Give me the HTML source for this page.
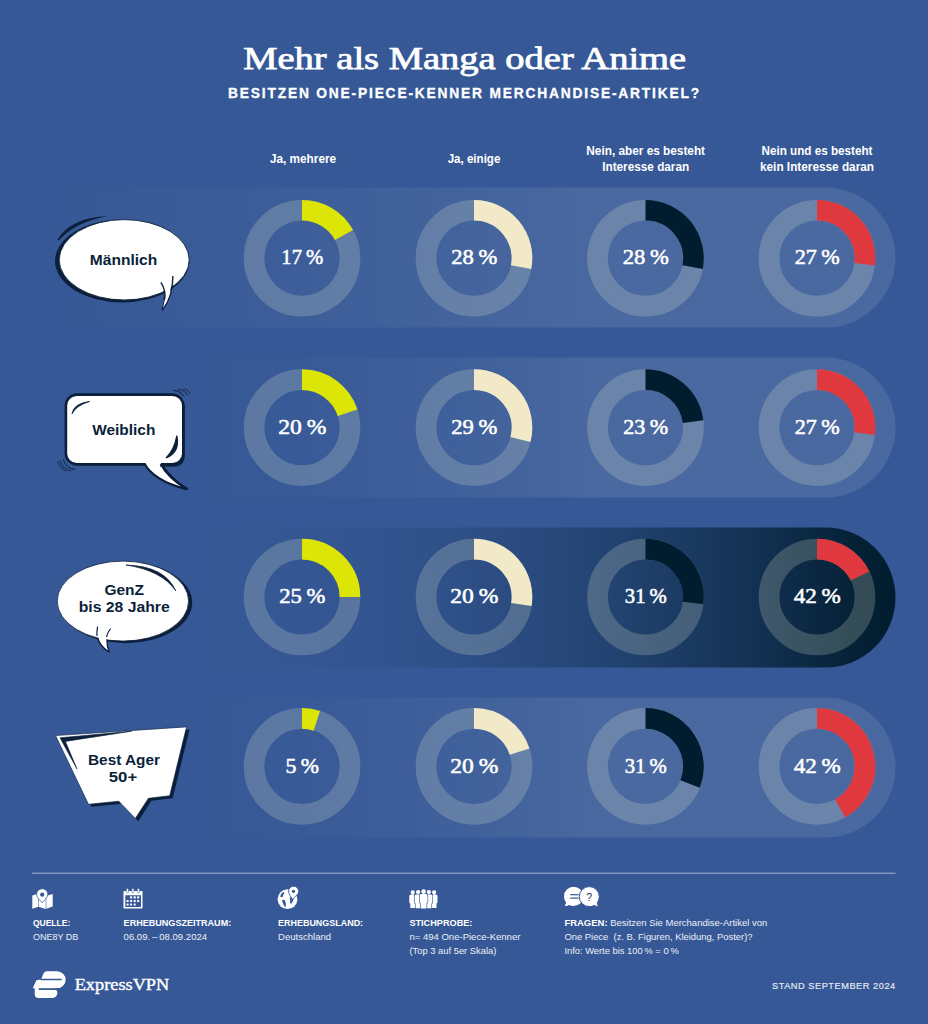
<!DOCTYPE html>
<html lang="de">
<head>
<meta charset="utf-8">
<title>Mehr als Manga oder Anime</title>
<style>
html,body{margin:0;padding:0;background:#365896;}
body{width:928px;height:1024px;overflow:hidden;position:relative;}
svg{display:block;position:absolute;left:0;top:0;}
.serif{font-family:"Liberation Serif",serif;}
.sans{font-family:"Liberation Sans",sans-serif;}
text{fill:#fff;}
.b{font-weight:bold;}
.bub{fill:#0b1f3a;font-family:"Liberation Sans",sans-serif;font-weight:bold;font-size:15px;text-anchor:middle;}
.pct{font-family:"Liberation Serif",serif;font-size:21.6px;text-anchor:middle;stroke:#fff;stroke-width:0.55;}
.hd{font-family:"Liberation Sans",sans-serif;font-weight:bold;font-size:12px;text-anchor:middle;}
.fl{font-family:"Liberation Sans",sans-serif;font-weight:bold;font-size:9.3px;}
.fv{font-family:"Liberation Sans",sans-serif;font-size:9.3px;fill:#edf0f7;}
</style>
</head>
<body>
<svg width="928" height="1024" viewBox="0 0 928 1024">
<defs>
<linearGradient id="gl1" gradientUnits="userSpaceOnUse" x1="40" y1="0" x2="600" y2="0">
<stop offset="0.00" stop-color="#fff" stop-opacity="0.0000"/>
<stop offset="0.05" stop-color="#fff" stop-opacity="0.0020"/>
<stop offset="0.10" stop-color="#fff" stop-opacity="0.0050"/>
<stop offset="0.15" stop-color="#fff" stop-opacity="0.0085"/>
<stop offset="0.20" stop-color="#fff" stop-opacity="0.0123"/>
<stop offset="0.25" stop-color="#fff" stop-opacity="0.0165"/>
<stop offset="0.30" stop-color="#fff" stop-opacity="0.0209"/>
<stop offset="0.35" stop-color="#fff" stop-opacity="0.0255"/>
<stop offset="0.40" stop-color="#fff" stop-opacity="0.0304"/>
<stop offset="0.45" stop-color="#fff" stop-opacity="0.0354"/>
<stop offset="0.50" stop-color="#fff" stop-opacity="0.0406"/>
<stop offset="0.55" stop-color="#fff" stop-opacity="0.0460"/>
<stop offset="0.60" stop-color="#fff" stop-opacity="0.0515"/>
<stop offset="0.65" stop-color="#fff" stop-opacity="0.0571"/>
<stop offset="0.70" stop-color="#fff" stop-opacity="0.0629"/>
<stop offset="0.75" stop-color="#fff" stop-opacity="0.0688"/>
<stop offset="0.80" stop-color="#fff" stop-opacity="0.0748"/>
<stop offset="0.85" stop-color="#fff" stop-opacity="0.0810"/>
<stop offset="0.90" stop-color="#fff" stop-opacity="0.0872"/>
<stop offset="0.95" stop-color="#fff" stop-opacity="0.0935"/>
<stop offset="1.00" stop-color="#fff" stop-opacity="0.1000"/>
</linearGradient>
<linearGradient id="gl2" gradientUnits="userSpaceOnUse" x1="150" y1="0" x2="600" y2="0">
<stop offset="0.00" stop-color="#fff" stop-opacity="0.0000"/>
<stop offset="0.05" stop-color="#fff" stop-opacity="0.0005"/>
<stop offset="0.10" stop-color="#fff" stop-opacity="0.0016"/>
<stop offset="0.15" stop-color="#fff" stop-opacity="0.0033"/>
<stop offset="0.20" stop-color="#fff" stop-opacity="0.0055"/>
<stop offset="0.25" stop-color="#fff" stop-opacity="0.0082"/>
<stop offset="0.30" stop-color="#fff" stop-opacity="0.0115"/>
<stop offset="0.35" stop-color="#fff" stop-opacity="0.0151"/>
<stop offset="0.40" stop-color="#fff" stop-opacity="0.0192"/>
<stop offset="0.45" stop-color="#fff" stop-opacity="0.0238"/>
<stop offset="0.50" stop-color="#fff" stop-opacity="0.0287"/>
<stop offset="0.55" stop-color="#fff" stop-opacity="0.0341"/>
<stop offset="0.60" stop-color="#fff" stop-opacity="0.0399"/>
<stop offset="0.65" stop-color="#fff" stop-opacity="0.0461"/>
<stop offset="0.70" stop-color="#fff" stop-opacity="0.0526"/>
<stop offset="0.75" stop-color="#fff" stop-opacity="0.0596"/>
<stop offset="0.80" stop-color="#fff" stop-opacity="0.0669"/>
<stop offset="0.85" stop-color="#fff" stop-opacity="0.0746"/>
<stop offset="0.90" stop-color="#fff" stop-opacity="0.0827"/>
<stop offset="0.95" stop-color="#fff" stop-opacity="0.0912"/>
<stop offset="1.00" stop-color="#fff" stop-opacity="0.1000"/>
</linearGradient>
<linearGradient id="gd" gradientUnits="userSpaceOnUse" x1="170" y1="0" x2="895" y2="0">
<stop offset="0.00" stop-color="#001d2f" stop-opacity="0.000"/>
<stop offset="0.05" stop-color="#001d2f" stop-opacity="0.002"/>
<stop offset="0.10" stop-color="#001d2f" stop-opacity="0.007"/>
<stop offset="0.15" stop-color="#001d2f" stop-opacity="0.018"/>
<stop offset="0.20" stop-color="#001d2f" stop-opacity="0.033"/>
<stop offset="0.25" stop-color="#001d2f" stop-opacity="0.053"/>
<stop offset="0.30" stop-color="#001d2f" stop-opacity="0.079"/>
<stop offset="0.35" stop-color="#001d2f" stop-opacity="0.110"/>
<stop offset="0.40" stop-color="#001d2f" stop-opacity="0.146"/>
<stop offset="0.45" stop-color="#001d2f" stop-opacity="0.189"/>
<stop offset="0.50" stop-color="#001d2f" stop-opacity="0.237"/>
<stop offset="0.55" stop-color="#001d2f" stop-opacity="0.290"/>
<stop offset="0.60" stop-color="#001d2f" stop-opacity="0.350"/>
<stop offset="0.65" stop-color="#001d2f" stop-opacity="0.416"/>
<stop offset="0.70" stop-color="#001d2f" stop-opacity="0.488"/>
<stop offset="0.75" stop-color="#001d2f" stop-opacity="0.566"/>
<stop offset="0.80" stop-color="#001d2f" stop-opacity="0.650"/>
<stop offset="0.85" stop-color="#001d2f" stop-opacity="0.740"/>
<stop offset="0.90" stop-color="#001d2f" stop-opacity="0.837"/>
<stop offset="0.95" stop-color="#001d2f" stop-opacity="0.940"/>
<stop offset="1.00" stop-color="#001d2f" stop-opacity="1.000"/>
</linearGradient>
</defs>
<rect width="928" height="1024" fill="#365896"/>

<path d="M0,187.5 H825.5 A70,70 0 0 1 825.5,327.5 H0 Z" fill="url(#gl1)"/>
<path d="M0,357.5 H825.5 A70,70 0 0 1 825.5,497.5 H0 Z" fill="url(#gl2)"/>
<path d="M0,527.5 H825.5 A70,70 0 0 1 825.5,667.5 H0 Z" fill="url(#gd)"/>
<path d="M0,697.5 H825.5 A70,70 0 0 1 825.5,837.5 H0 Z" fill="url(#gl2)"/>
<circle cx="302" cy="258.2" r="47.95" fill="none" stroke="rgba(225,236,208,0.215)" stroke-width="20.70"/>
<path d="M302.00,210.25 A47.95,47.95 0 0 1 344.02,235.10" fill="none" stroke="#dce506" stroke-width="20.70"/>
<text class="pct" x="302.3" y="263.8" textLength="42" lengthAdjust="spacingAndGlyphs">17 %</text>
<circle cx="474" cy="258.2" r="47.95" fill="none" stroke="rgba(225,236,208,0.215)" stroke-width="20.70"/>
<path d="M474.00,210.25 A47.95,47.95 0 0 1 521.10,267.18" fill="none" stroke="#f2e9c9" stroke-width="20.70"/>
<text class="pct" x="474.3" y="263.8" textLength="46" lengthAdjust="spacingAndGlyphs">28 %</text>
<circle cx="645.5" cy="258.2" r="47.95" fill="none" stroke="rgba(225,236,208,0.215)" stroke-width="20.70"/>
<path d="M645.50,210.25 A47.95,47.95 0 0 1 692.60,267.18" fill="none" stroke="#001d2f" stroke-width="20.70"/>
<text class="pct" x="645.8" y="263.8" textLength="46" lengthAdjust="spacingAndGlyphs">28 %</text>
<circle cx="817" cy="258.2" r="47.95" fill="none" stroke="rgba(225,236,208,0.215)" stroke-width="20.70"/>
<path d="M817.00,210.25 A47.95,47.95 0 0 1 864.57,264.21" fill="none" stroke="#df393f" stroke-width="20.70"/>
<text class="pct" x="817.3" y="263.8" textLength="45" lengthAdjust="spacingAndGlyphs">27 %</text>
<circle cx="302" cy="427.6" r="47.95" fill="none" stroke="rgba(225,236,208,0.215)" stroke-width="20.70"/>
<path d="M302.00,379.65 A47.95,47.95 0 0 1 347.60,412.78" fill="none" stroke="#dce506" stroke-width="20.70"/>
<text class="pct" x="302.3" y="434.2" textLength="48" lengthAdjust="spacingAndGlyphs">20 %</text>
<circle cx="474" cy="427.6" r="47.95" fill="none" stroke="rgba(225,236,208,0.215)" stroke-width="20.70"/>
<path d="M474.00,379.65 A47.95,47.95 0 0 1 520.44,439.52" fill="none" stroke="#f2e9c9" stroke-width="20.70"/>
<text class="pct" x="474.3" y="434.2" textLength="46" lengthAdjust="spacingAndGlyphs">29 %</text>
<circle cx="645.5" cy="427.6" r="47.95" fill="none" stroke="rgba(225,236,208,0.215)" stroke-width="20.70"/>
<path d="M645.50,379.65 A47.95,47.95 0 0 1 693.07,421.59" fill="none" stroke="#001d2f" stroke-width="20.70"/>
<text class="pct" x="645.8" y="434.2" textLength="45" lengthAdjust="spacingAndGlyphs">23 %</text>
<circle cx="817" cy="427.6" r="47.95" fill="none" stroke="rgba(225,236,208,0.215)" stroke-width="20.70"/>
<path d="M817.00,379.65 A47.95,47.95 0 0 1 864.57,433.61" fill="none" stroke="#df393f" stroke-width="20.70"/>
<text class="pct" x="817.3" y="434.2" textLength="45" lengthAdjust="spacingAndGlyphs">27 %</text>
<circle cx="302" cy="597.0" r="47.95" fill="none" stroke="rgba(225,236,208,0.215)" stroke-width="20.70"/>
<path d="M302.00,549.05 A47.95,47.95 0 0 1 349.95,597.00" fill="none" stroke="#dce506" stroke-width="20.70"/>
<text class="pct" x="302.3" y="603.4" textLength="46" lengthAdjust="spacingAndGlyphs">25 %</text>
<circle cx="474" cy="597.0" r="47.95" fill="none" stroke="rgba(225,236,208,0.215)" stroke-width="20.70"/>
<path d="M474.00,549.05 A47.95,47.95 0 0 1 521.36,604.50" fill="none" stroke="#f2e9c9" stroke-width="20.70"/>
<text class="pct" x="474.3" y="603.4" textLength="48" lengthAdjust="spacingAndGlyphs">20 %</text>
<circle cx="645.5" cy="597.0" r="47.95" fill="none" stroke="rgba(225,236,208,0.215)" stroke-width="20.70"/>
<path d="M645.50,549.05 A47.95,47.95 0 0 1 693.07,603.01" fill="none" stroke="#001d2f" stroke-width="20.70"/>
<text class="pct" x="645.8" y="603.4" textLength="42" lengthAdjust="spacingAndGlyphs">31 %</text>
<circle cx="817" cy="597.0" r="47.95" fill="none" stroke="rgba(225,236,208,0.215)" stroke-width="20.70"/>
<path d="M817.00,549.05 A47.95,47.95 0 0 1 860.13,576.04" fill="none" stroke="#df393f" stroke-width="20.70"/>
<text class="pct" x="817.3" y="603.4" textLength="47" lengthAdjust="spacingAndGlyphs">42 %</text>
<circle cx="302" cy="766.4" r="47.95" fill="none" stroke="rgba(225,236,208,0.215)" stroke-width="20.70"/>
<path d="M302.00,718.45 A47.95,47.95 0 0 1 316.82,720.80" fill="none" stroke="#dce506" stroke-width="20.70"/>
<text class="pct" x="302.3" y="772.7" textLength="33.5" lengthAdjust="spacingAndGlyphs">5 %</text>
<circle cx="474" cy="766.4" r="47.95" fill="none" stroke="rgba(225,236,208,0.215)" stroke-width="20.70"/>
<path d="M474.00,718.45 A47.95,47.95 0 0 1 519.60,751.58" fill="none" stroke="#f2e9c9" stroke-width="20.70"/>
<text class="pct" x="474.3" y="772.7" textLength="48" lengthAdjust="spacingAndGlyphs">20 %</text>
<circle cx="645.5" cy="766.4" r="47.95" fill="none" stroke="rgba(225,236,208,0.215)" stroke-width="20.70"/>
<path d="M645.50,718.45 A47.95,47.95 0 0 1 690.08,784.05" fill="none" stroke="#001d2f" stroke-width="20.70"/>
<text class="pct" x="645.8" y="772.7" textLength="42" lengthAdjust="spacingAndGlyphs">31 %</text>
<circle cx="817" cy="766.4" r="47.95" fill="none" stroke="rgba(225,236,208,0.215)" stroke-width="20.70"/>
<path d="M817.00,718.45 A47.95,47.95 0 0 1 840.10,808.42" fill="none" stroke="#df393f" stroke-width="20.70"/>
<text class="pct" x="817.3" y="772.7" textLength="47" lengthAdjust="spacingAndGlyphs">42 %</text>
<g id="b1">
<path d="M57.4,239.6 Q72,217 108,216.3 Q76,221.5 58.6,240.6 Z" fill="#0b1f3a"/>
<ellipse cx="122.2" cy="261" rx="67.2" ry="41.4" fill="#0b1f3a"/>
<path d="M160.9,281 Q168,293 162.4,309.8 Q173,296 172.9,275 Z" fill="#fff" stroke="#0b1f3a" stroke-width="1.5" stroke-linejoin="round"/>
<ellipse cx="124.2" cy="259.8" rx="65" ry="40.2" fill="#fff" stroke="#0b1f3a" stroke-width="0.9"/>
<path d="M161.4,283 Q167.6,293 163,308 Q172,296 172.3,277 Z" fill="#fff"/>
<path d="M160.9,282.4 Q166.5,291 164.4,300" fill="none" stroke="#0b1f3a" stroke-width="1.4"/>
<path d="M172.9,276 Q173,284 170.8,291" fill="none" stroke="#0b1f3a" stroke-width="1.4"/>
<text class="bub" x="123.5" y="265.4" textLength="67.4" lengthAdjust="spacingAndGlyphs">Männlich</text>
</g>
<g id="b2">
<path d="M143.6,462 Q153,481 186.8,489.2 Q167,476 160.5,462 Z" fill="#fff" stroke="#0b1f3a" stroke-width="2.2" stroke-linejoin="round"/>
<rect x="65.9" y="394.6" width="117.4" height="69.8" rx="11" ry="11" fill="#fff" stroke="#0b1f3a" stroke-width="2.6"/>
<path d="M183.6,404 V455 Q183.6,465.6 173,465.6 H160" fill="none" stroke="#0b1f3a" stroke-width="2.2"/>
<path d="M145.4,463 Q150,471 158,475 L161,463 Z" fill="#fff"/>
<path d="M161,464 Q167.5,477 187,489.2" fill="none" stroke="#0b1f3a" stroke-width="2.6"/>
<path d="M72,413.8 Q73.5,403.5 89.6,401.4 Q76,405.5 72,413.8 Z" fill="#0b1f3a" stroke="#0b1f3a" stroke-width="0.8"/>
<path d="M176.8,435.5 Q180.5,452 166,458 Q174.6,449 176.8,435.5 Z" fill="#0b1f3a" stroke="#0b1f3a" stroke-width="1.1"/>
<path d="M173.5,390.6 Q180,390.5 184.3,396.4" fill="none" stroke="#0b1f3a" stroke-width="1"/>
<path d="M178.5,389.3 Q184.5,390 188,395.3" fill="none" stroke="#0b1f3a" stroke-width="0.9"/>
<path d="M183.5,388.6 Q188.5,389.8 190.5,393.6" fill="none" stroke="#0b1f3a" stroke-width="0.8"/>
<path d="M75,469.4 Q66.5,469 63.2,459.5" fill="none" stroke="#0b1f3a" stroke-width="1"/>
<path d="M71,470.8 Q62.5,469.5 60.2,460.5" fill="none" stroke="#0b1f3a" stroke-width="0.9"/>
<path d="M66.5,471 Q59.5,468.5 58,461.5" fill="none" stroke="#0b1f3a" stroke-width="0.8"/>
<text class="bub" x="123.8" y="434.6" textLength="63.2" lengthAdjust="spacingAndGlyphs">Weiblich</text>
</g>
<g id="b3">
<ellipse cx="125.6" cy="602.6" rx="66.6" ry="40.6" fill="#0b1f3a"/>
<path d="M97.3,628 Q95,643 109,651.8 Q104.5,641 110,630 Z" fill="#fff" stroke="#0b1f3a" stroke-width="1.4" stroke-linejoin="round"/>
<ellipse cx="122.9" cy="601.1" rx="65.7" ry="40" fill="#fff" stroke="#0b1f3a" stroke-width="0.8"/>
<path d="M98.2,628 Q96.2,641.5 108,650.4 Q103.6,641 109.2,630 Z" fill="#fff"/>
<path d="M97.6,626.5 Q96.6,632 97,636" fill="none" stroke="#0b1f3a" stroke-width="1.2"/>
<path d="M110.6,628.5 Q107.5,632.5 106.4,637" fill="none" stroke="#0b1f3a" stroke-width="1.2"/>
<path d="M126,565 Q165,566 175.8,591 Q162,570.5 126,565 Z" fill="#0b1f3a" stroke="#0b1f3a" stroke-width="0.7"/>
<text class="bub" x="124.2" y="595.4" textLength="39.6" lengthAdjust="spacingAndGlyphs">GenZ</text>
<text class="bub" x="124.2" y="612.2" textLength="91" lengthAdjust="spacingAndGlyphs">bis 28 Jahre</text>
</g>
<g id="b4">
<path d="M58.6,738 L189.5,729.4 L172.7,798.2 L151.4,800.8 L138.3,821.2 L121.8,803.7 L91.5,806.8 Z" fill="#0b1f3a"/>
<path d="M55.6,735.6 L186.5,726.9 L169.7,795.7 L148.4,798.3 L135.3,818.4 L118.8,801.2 L88.5,804.3 Z" fill="#fff" stroke="#0b1f3a" stroke-width="0.6"/>
<path d="M131.6,731.2 L60,737.8 L77,769 L65.4,741.4 Z" fill="#0b1f3a" stroke="#0b1f3a" stroke-width="0.6" stroke-linejoin="round"/>
<text class="bub" x="124" y="765.3" textLength="72" lengthAdjust="spacingAndGlyphs">Best Ager</text>
<text class="bub" x="123" y="781.5" textLength="28.4" lengthAdjust="spacingAndGlyphs">50+</text>
</g>
<text class="serif" x="464.7" y="69.1" text-anchor="middle" font-size="30.5" textLength="443" lengthAdjust="spacingAndGlyphs" stroke="#fff" stroke-width="0.75">Mehr als Manga oder Anime</text>
<text class="sans b" x="463.6" y="98" text-anchor="middle" font-size="13.8" textLength="471" lengthAdjust="spacing" stroke="#fff" stroke-width="0.3">BESITZEN ONE-PIECE-KENNER MERCHANDISE-ARTIKEL?</text>
<text class="hd" x="303" y="163" textLength="66.2" lengthAdjust="spacingAndGlyphs">Ja, mehrere</text>
<text class="hd" x="474" y="163" textLength="52.7" lengthAdjust="spacingAndGlyphs">Ja, einige</text>
<text class="hd" x="645.7" y="154.5" textLength="118.7" lengthAdjust="spacingAndGlyphs">Nein, aber es besteht</text>
<text class="hd" x="645.7" y="171.2" textLength="87" lengthAdjust="spacingAndGlyphs">Interesse daran</text>
<text class="hd" x="817" y="154.5" textLength="111" lengthAdjust="spacingAndGlyphs">Nein und es besteht</text>
<text class="hd" x="817" y="171.2" textLength="114" lengthAdjust="spacingAndGlyphs">kein Interesse daran</text>
<rect x="32" y="872.7" width="863.5" height="1" fill="#fff" fill-opacity="0.55"/>
<g id="i1">
<path d="M32.3,895.5 L38.5,893.6 L46,896 L52.7,894.1 V906.4 L45.6,909 L38.5,906.8 L32.3,908.7 Z" fill="#fff"/>
<path d="M38.5,894 V906.8 M46,896 V909" stroke="#365896" stroke-width="0.6" fill="none" opacity="0.9"/>
<path d="M42.2,888.7 a5.6,5.6 0 0 1 5.6,5.6 c0,3.3 -3.2,5.6 -5.6,8.4 c-2.4,-2.8 -5.6,-5.1 -5.6,-8.4 a5.6,5.6 0 0 1 5.6,-5.6 Z" fill="#fff" stroke="#365896" stroke-width="0.8"/>
<circle cx="42.2" cy="894.7" r="2.1" fill="#365896"/>
</g>
<g id="i2"><path d="M124.3,890.9 H141.7 a0.8,0.8 0 0 1 0.8,0.8 V907.8 a0.8,0.8 0 0 1 -0.8,0.8 H124.3 a0.8,0.8 0 0 1 -0.8,-0.8 V891.7 a0.8,0.8 0 0 1 0.8,-0.8 Z M125.3,895.2 V907.1 H141 V895.2 Z" fill="#fff" fill-rule="evenodd"/><rect x="126.35000000000001" y="888.6" width="2.1" height="4.4" rx="1" fill="#fff" stroke="#365896" stroke-width="0.5"/><rect x="131.85" y="888.6" width="2.1" height="4.4" rx="1" fill="#fff" stroke="#365896" stroke-width="0.5"/><rect x="137.35" y="888.6" width="2.1" height="4.4" rx="1" fill="#fff" stroke="#365896" stroke-width="0.5"/><rect x="130.05" y="896.35" width="2.1" height="2.1" rx="0.5" fill="#fff"/><rect x="133.65" y="896.35" width="2.1" height="2.1" rx="0.5" fill="#fff"/><rect x="137.15" y="896.35" width="2.1" height="2.1" rx="0.5" fill="#fff"/><rect x="126.55" y="899.95" width="2.1" height="2.1" rx="0.5" fill="#fff"/><rect x="130.05" y="899.95" width="2.1" height="2.1" rx="0.5" fill="#fff"/><rect x="133.65" y="899.95" width="2.1" height="2.1" rx="0.5" fill="#fff"/><rect x="137.15" y="899.95" width="2.1" height="2.1" rx="0.5" fill="#fff"/><rect x="126.55" y="903.45" width="2.1" height="2.1" rx="0.5" fill="#fff"/><rect x="130.05" y="903.45" width="2.1" height="2.1" rx="0.5" fill="#fff"/><rect x="133.65" y="903.45" width="2.1" height="2.1" rx="0.5" fill="#fff"/></g>
<g id="i3">
<circle cx="287.5" cy="899.2" r="9.9" fill="#fff"/>
<path d="M280.2,896.6 q0.4,-3 3,-4.6 q1.6,0.2 1,1.6 q-1.4,1.4 -1.4,3.2 q-1.2,1 -2.6,-0.2 Z" fill="#365896"/>
<path d="M282.1,900 q1.6,-0.8 2.8,0.6 q1.4,2.6 1,5.8 q-0.6,0.8 -1.6,-0.2 q-1.8,-2.6 -2.2,-6.2 Z" fill="#365896"/>
<path d="M289.6,897.6 q1.8,-0.8 3.4,0.2 l0.6,1.4 q-0.8,2.6 -2.4,4.6 q-1,0.2 -1,-1 q0.2,-2.6 -0.6,-5.2 Z" fill="#365896"/>
<path d="M293.6,886.2 a5.1,5.1 0 0 1 5.1,5.1 c0,3 -3.4,5 -6.2,8 c-1.6,-3 -4,-5 -4,-8 a5.1,5.1 0 0 1 5.1,-5.1 Z" fill="#fff" stroke="#365896" stroke-width="0.9"/>
<circle cx="293.5" cy="891.3" r="1.6" fill="#365896"/>
</g>
<g id="i4"><path d="M409.3,896.1 q0,-1.6 1.6,-1.6 h3.5999999999999996 q1.6,0 1.6,1.6 v6.2 q0,1 -1,1.2 v4.5 h-4.8 v-4.5 q-1,-0.2 -1,-1.2 Z M410.59999999999997,892.3 a2.1,2.1 0 1 0 4.2,0 a2.1,2.1 0 1 0 -4.2,0 Z" fill="#fff"/><path d="M430.70000000000005,896.1 q0,-1.6 1.6,-1.6 h3.5999999999999996 q1.6,0 1.6,1.6 v6.2 q0,1 -1,1.2 v4.5 h-4.8 v-4.5 q-1,-0.2 -1,-1.2 Z M432.0,892.3 a2.1,2.1 0 1 0 4.2,0 a2.1,2.1 0 1 0 -4.2,0 Z" fill="#fff"/><path d="M414.6,896.0 q0,-1.6 1.6,-1.6 h3.8 q1.6,0 1.6,1.6 v6.2 q0,1 -1,1.2 v4.800000000000068 h-5.0 v-4.800000000000068 q-1,-0.2 -1,-1.2 Z M415.95000000000005,892.1 a2.15,2.15 0 1 0 4.3,0 a2.15,2.15 0 1 0 -4.3,0 Z" fill="#365896" stroke="#365896" stroke-width="1.3"/><path d="M414.6,896.0 q0,-1.6 1.6,-1.6 h3.8 q1.6,0 1.6,1.6 v6.2 q0,1 -1,1.2 v4.800000000000068 h-5.0 v-4.800000000000068 q-1,-0.2 -1,-1.2 Z M415.95000000000005,892.1 a2.15,2.15 0 1 0 4.3,0 a2.15,2.15 0 1 0 -4.3,0 Z" fill="#fff"/><path d="M425.4,896.0 q0,-1.6 1.6,-1.6 h3.8 q1.6,0 1.6,1.6 v6.2 q0,1 -1,1.2 v4.800000000000068 h-5.0 v-4.800000000000068 q-1,-0.2 -1,-1.2 Z M426.75,892.1 a2.15,2.15 0 1 0 4.3,0 a2.15,2.15 0 1 0 -4.3,0 Z" fill="#365896" stroke="#365896" stroke-width="1.3"/><path d="M425.4,896.0 q0,-1.6 1.6,-1.6 h3.8 q1.6,0 1.6,1.6 v6.2 q0,1 -1,1.2 v4.800000000000068 h-5.0 v-4.800000000000068 q-1,-0.2 -1,-1.2 Z M426.75,892.1 a2.15,2.15 0 1 0 4.3,0 a2.15,2.15 0 1 0 -4.3,0 Z" fill="#fff"/><path d="M419.70000000000005,895.7 q0,-1.6 1.6,-1.6 h4.6 q1.6,0 1.6,1.6 v6.2 q0,1 -1,1.2 v5.399999999999977 h-5.8 v-5.399999999999977 q-1,-0.2 -1,-1.2 Z M421.25,891.6 a2.35,2.35 0 1 0 4.7,0 a2.35,2.35 0 1 0 -4.7,0 Z" fill="#365896" stroke="#365896" stroke-width="1.3"/><path d="M419.70000000000005,895.7 q0,-1.6 1.6,-1.6 h4.6 q1.6,0 1.6,1.6 v6.2 q0,1 -1,1.2 v5.399999999999977 h-5.8 v-5.399999999999977 q-1,-0.2 -1,-1.2 Z M421.25,891.6 a2.35,2.35 0 1 0 4.7,0 a2.35,2.35 0 1 0 -4.7,0 Z" fill="#fff"/></g>
<g id="i5">
<path d="M573.6,886.8 a9.6,9.6 0 0 1 0,19.2 q-2.6,0 -4.6,-1 q-2,1.2 -4.4,0.8 q1.2,-1.4 1.4,-3.6 q-2,-2.6 -2,-5.8 a9.6,9.6 0 0 1 9.6,-9.6 Z" fill="#fff"/>
<path d="M589.3,886.6 a10,10 0 0 0 0,20 q2.8,0 5,-1.1 q2,1.2 4.4,0.8 q-1.2,-1.4 -1.4,-3.6 q2,-2.6 2,-6.1 a10,10 0 0 0 -10,-10 Z" fill="#fff" stroke="#365896" stroke-width="1"/>
<rect x="570.2" y="894.1" width="8.4" height="1.2" fill="#365896"/>
<rect x="570.2" y="897.5" width="8.4" height="1.2" fill="#365896"/>
<text x="589.1" y="900.5" text-anchor="middle" class="sans" font-size="10.5" style="fill:#1c2f55">?</text>
</g>
<text class="fl" x="32.9" y="926.2" textLength="37.4" lengthAdjust="spacingAndGlyphs">QUELLE:</text>
<text class="fv" x="32.9" y="940.1" textLength="45.4" lengthAdjust="spacingAndGlyphs">ONE8Y DB</text>
<text class="fl" x="123.6" y="926.2" textLength="107.6" lengthAdjust="spacingAndGlyphs">ERHEBUNGSZEITRAUM:</text>
<text class="fv" x="123.6" y="940.1" textLength="83.5" lengthAdjust="spacingAndGlyphs">06.09. – 08.09.2024</text>
<text class="fl" x="278.1" y="926.2" textLength="85" lengthAdjust="spacingAndGlyphs">ERHEBUNGSLAND:</text>
<text class="fv" x="278.1" y="940.1" textLength="53" lengthAdjust="spacingAndGlyphs">Deutschland</text>
<text class="fl" x="409.4" y="926.2" textLength="63" lengthAdjust="spacingAndGlyphs">STICHPROBE:</text>
<text class="fv" x="409.4" y="940.1" textLength="111" lengthAdjust="spacingAndGlyphs">n= 494 One-Piece-Kenner</text>
<text class="fv" x="409.4" y="954.1" textLength="87" lengthAdjust="spacingAndGlyphs">(Top 3 auf 5er Skala)</text>
<text class="fv" x="564.4" y="926.2" textLength="202.8" lengthAdjust="spacingAndGlyphs"><tspan class="fl" style="fill:#fff">FRAGEN:</tspan> Besitzen Sie Merchandise-Artikel von</text>
<text xml:space="preserve" class="fv" x="564.4" y="940.1" textLength="188.1" lengthAdjust="spacingAndGlyphs">One Piece  (z. B. Figuren, Kleidung, Poster)?</text>
<text class="fv" x="564.4" y="954.1" textLength="114.4" lengthAdjust="spacingAndGlyphs">Info: Werte bis 100 % = 0 %</text>
<g id="logo">
<path d="M41,979.4 L43.5,973.5 Q44.5,971.2 47,971.2 H57.1 A8.55,8.55 0 0 1 57.1,988.3 H32.7 L36.4,980.2 Z" fill="#fff"/>
<path d="M34.7,987 V993.9 A4,4 0 0 0 38.7,997.9 H52.6 A4.8,4.8 0 0 0 52.6,988.3 Z" fill="#fff"/>
<path d="M41.2,979.55 H61.2" stroke="#365896" stroke-width="1.5" stroke-linecap="round" fill="none"/>
<path d="M39.3,989.1 H57.5" stroke="#365896" stroke-width="1.6" stroke-linecap="round" fill="none"/>
</g>
<text class="serif" x="74.7" y="990.3" font-size="17.5" textLength="94.6" lengthAdjust="spacingAndGlyphs" stroke="#fff" stroke-width="0.4">ExpressVPN</text>
<text class="sans" x="772" y="988.8" font-size="9.2" textLength="123.2" lengthAdjust="spacing" style="fill:#e8ecf5" stroke="#e8ecf5" stroke-width="0.15">STAND SEPTEMBER 2024</text>
</svg>
</body>
</html>
